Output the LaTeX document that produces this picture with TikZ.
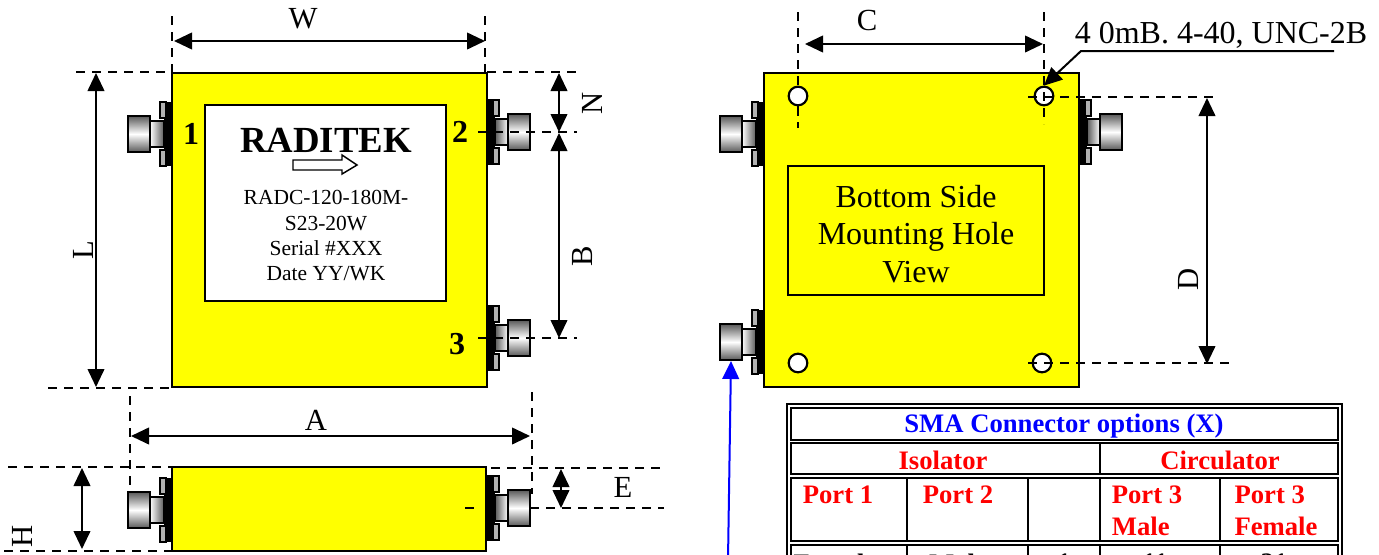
\documentclass[tikz,border=0pt]{standalone}
\usepackage{fontspec}
\setmainfont{Liberation Serif}
\usetikzlibrary{arrows.meta}
\definecolor{boxyellow}{RGB}{255,255,0}
\tikzset{
  x=0.75pt,y=-0.75pt,
  body/.style={draw,line width=1.6pt,fill=boxyellow},
  dim/.style={line width=1.4pt,{Triangle[length=13.5pt,width=12.5pt]}-{Triangle[length=13.5pt,width=12.5pt]}},
  guide/.style={line width=1.2pt,dash pattern=on 7pt off 5pt},
  hole/.style={draw,line width=1.6pt,fill=white,circle,minimum size=14pt,inner sep=0pt},
  dimtext/.style={font=\fontsize{23}{26}\selectfont,inner sep=0pt},
  porttext/.style={font=\fontsize{24}{26}\selectfont\bfseries,inner sep=0pt},
  tabhead/.style={font=\fontsize{20}{24}\selectfont\bfseries,text=red,inner sep=0pt},
  tabcell/.style={font=\fontsize{20}{24}\selectfont\bfseries,inner sep=0pt},
  tabline/.style={line width=1.6pt},
}
% connector on the left side, (#1,#2) is the middle of its flange at the body edge
\newcommand{\connleft}[2]{%
  \begin{scope}[shift={(#1,#2)}]
    \fill (0,-32) rectangle (-8,32);
    \draw[line width=0.9pt,fill=gray!60] (-12,-32) rectangle (-6,-16);
    \draw[line width=0.9pt,fill=gray!60] (-12,32) rectangle (-6,16);
    \draw[line width=0.9pt,left color=white,right color=gray!70!black] (-22,-13) rectangle (-8,13);
    \draw[line width=1.5pt,top color=gray!70!black,bottom color=gray!70!black,middle color=white] (-44,-18) rectangle (-22,18);
  \end{scope}}
\newcommand{\connright}[2]{%
  \begin{scope}[shift={(#1,#2)}]
    \fill (0,-33) rectangle (8,33);
    \draw[line width=0.9pt,fill=gray!60] (12,-32) rectangle (6,-16);
    \draw[line width=0.9pt,fill=gray!60] (12,32) rectangle (6,16);
    \draw[line width=0.9pt,left color=gray!70!black,right color=white] (8,-13) rectangle (21,13);
    \draw[line width=1.5pt,top color=gray!70!black,bottom color=gray!70!black,middle color=white] (21,-18) rectangle (43,18);
  \end{scope}}
\begin{document}
\begin{tikzpicture}
  \useasboundingbox (0,0) rectangle (1379,554);
  \clip (0,0) rectangle (1379,554);

  % top view
  \connleft{172}{134}
  \connright{487}{132}
  \connright{487}{338}
  \node[body,minimum width=236pt,minimum height=236pt,inner sep=0pt] (topbody) at (329.5,230) {};
  \node[draw,line width=1.4pt,fill=white,minimum width=181pt,minimum height=147pt,inner sep=0pt] (label) at (325.5,203) {};
  \node[font=\fontsize{27.6}{30}\selectfont\bfseries,inner sep=0pt] (brand) at (326,140) {RADITEK};
  \draw[line width=1.1pt,fill=white] (293,160) -- (342,160) -- (342,155) -- (357,165) -- (342,174) -- (342,170) -- (293,170) -- cycle;
  \node[font=\fontsize{16.1}{19}\selectfont,align=center,inner sep=0pt] (model) at (326,236) {RADC-120-180M-\\S23-20W\\Serial \#XXX\\Date YY/WK};
  \node[porttext] (portone) at (191,134) {1};
  \node[porttext] (porttwo) at (460,132) {2};
  \node[porttext] (portthree) at (457,344) {3};

  \coordinate (wa) at (174,41);
  \coordinate (wb) at (485,41);
  \draw[guide] (172,16) -- (172,72);
  \draw[guide] (485,16) -- (485,72);
  \draw[dim] (wa) -- (wb);
  \node[dimtext] (wtext) at (303,19) {W};

  \draw[guide] (76,72) -- (172,72);
  \draw[guide] (48,388) -- (172,388);
  \draw[dim] (96,73) -- (96,387);
  \node[dimtext,rotate=90] (ltext) at (83,250) {L};

  \draw[guide] (487,72) -- (577,72);
  \draw[guide] (478,132) -- (577,132);
  \draw[guide] (478,338) -- (577,338);
  \draw[dim] (559,73) -- (559,132);
  \draw[dim] (559,133) -- (559,338);
  \node[dimtext,rotate=90] (ntext) at (592,103) {N};
  \node[dimtext,rotate=90] (btext) at (582,256) {B};

  % front view
  \connleft{172}{510}
  \connright{487}{508}
  \node[body,minimum width=236pt,minimum height=63pt,inner sep=0pt] (frontbody) at (329,509) {};
  \draw[guide] (130,396) -- (130,492);
  \draw[guide] (532,392) -- (532,494);
  \draw[dim] (131,436) -- (530,436);
  \node[dimtext] (atext) at (316,420) {A};
  \draw[guide] (8,467) -- (172,467);
  \draw[guide] (4,551) -- (172,551);
  \draw[dim] (82,468) -- (82,549);
  \node[dimtext,rotate=90] (htext) at (22,536) {H};
  \draw[guide] (491,468) -- (664,468);
  \draw[guide] (465,508) -- (480,508);
  \draw[guide] (530,508) -- (664,508);
  \draw[dim] (561,469) -- (561,508);
  \node[dimtext] (etext) at (623,487) {E};

  % bottom view
  \connleft{764}{134}
  \connleft{764}{342}
  \connright{1079}{132}
  \node[body,minimum width=236pt,minimum height=236pt,inner sep=0pt] (botbody) at (921.5,230) {};
  \node[draw,line width=1.4pt,minimum width=192pt,minimum height=97pt,inner sep=0pt] (botframe) at (916,230.5) {};
  \node[align=center,font=\fontsize{24}{28}\selectfont,inner sep=0pt] (bottext) at (916,234) {Bottom Side\\Mounting Hole\\View};
  \node[hole] (holea) at (798,96) {};
  \node[hole] (holeb) at (1044,96) {};
  \node[hole] (holec) at (798,363) {};
  \node[hole] (holed) at (1042,363) {};
  \draw[guide] (798,12) -- (holea.north) (holea.south) -- (798,128);
  \draw[guide] (1044,12) -- (1044,124);
  \draw[guide] (1028,97) -- (1218,97);
  \draw[guide] (1028,363) -- (1232,363);
  \draw[dim] (805,44) -- (1043,44);
  \node[dimtext] (ctext) at (867,20) {C};
  \draw[dim] (1207,98) -- (1207,364);
  \node[dimtext,rotate=90] (dtext) at (1188,279) {D};
  \node[font=\fontsize{24}{26}\selectfont,inner sep=0pt] (threadtext) at (1221,35) {4 0mB. 4-40, UNC-2B};
  \coordinate (threadend) at (1334,51);
  \coordinate (threadbend) at (1081,51);
  \draw[line width=1.5pt,-{Triangle[length=13.5pt,width=12.5pt]}] (threadend) -- (threadbend) -- (holeb.north);
  \coordinate (bluestart) at (728,560);
  \draw[blue,line width=1.5pt,-{Triangle[length=13.5pt,width=12.5pt]}] (bluestart) -- (731,361);

  % connector table
  \draw[line width=2pt] (787,404) rectangle (1342,560);
  \draw[tabline] (791,408) rectangle (1338,440);
  \draw[tabline] (791,443) rectangle (1338,474);
  \draw[tabline] (791,478) rectangle (1338,541);
  \draw[tabline] (791,545) rectangle (1338,600);
  \draw[tabline] (1100,443) -- (1100,474);
  \foreach \xpos in {907,1028,1100,1220}
    \draw[tabline] (\xpos,478) -- (\xpos,541) (\xpos,545) -- (\xpos,600);
  \node[font=\fontsize{20}{24}\selectfont\bfseries,text=blue,inner sep=0pt] (tabtitle) at (1064,426) {SMA Connector options (X)};
  \node[tabhead] (isolator) at (943,460) {Isolator};
  \node[tabhead] (circulator) at (1220,460) {Circulator};
  \node[tabhead] (portonehead) at (838,495) {Port 1};
  \node[tabhead] (porttwohead) at (958,495) {Port 2};
  \node[tabhead,align=left] (malehead) at (1147,510.5) {Port 3\\Male};
  \node[tabhead,align=left] (femalehead) at (1276,510.5) {Port 3\\Female};
  \node[tabcell] (femalecell) at (835,563) {Female};
  \node[tabcell] (malecell) at (958,563) {Male};
  \node[tabcell] (numone) at (1064,563) {1};
  \node[tabcell] (numtwo) at (1155,563) {11};
  \node[tabcell] (numthree) at (1274,563) {21};
\end{tikzpicture}
\end{document}
